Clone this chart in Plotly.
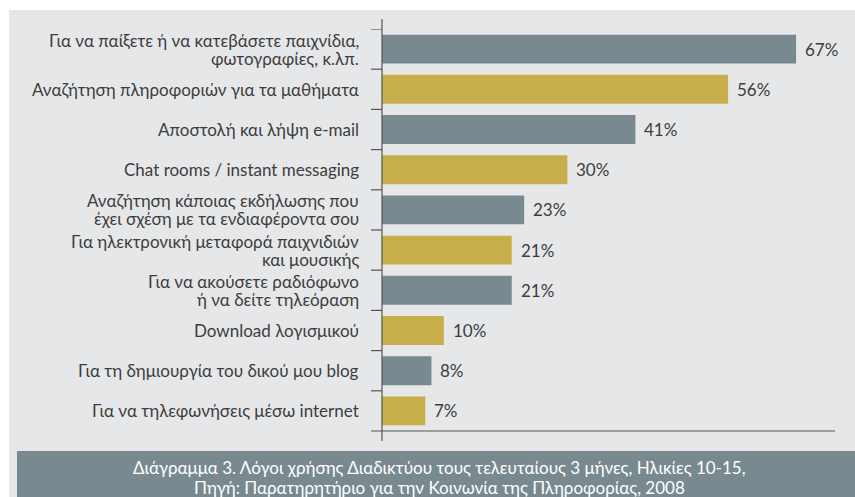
import plotly.graph_objects as go

categories = [
    "Για να παίξετε ή να κατεβάσετε παιχνίδια,<br>φωτογραφίες, κ.λπ.",
    "Αναζήτηση πληροφοριών για τα μαθήματα",
    "Αποστολή και λήψη e-mail",
    "Chat rooms / instant messaging",
    "Αναζήτηση κάποιας εκδήλωσης που<br>έχει σχέση με τα ενδιαφέροντα σου",
    "Για ηλεκτρονική μεταφορά παιχνιδιών<br>και μουσικής",
    "Για να ακούσετε ραδιόφωνο<br>ή να δείτε τηλεόραση",
    "Download λογισμικού",
    "Για τη δημιουργία του δικού μου blog",
    "Για να τηλεφωνήσεις μέσω internet",
]
values = [67, 56, 41, 30, 23, 21, 21, 10, 8, 7]
value_labels = ["67%", "56%", "41%", "30%", "23%", "21%", "21%", "10%", "8%", "7%"]
caption_lines = [
    "Διάγραμμα 3. Λόγοι χρήσης Διαδικτύου τους τελευταίους 3 μήνες, Ηλικίες 10-15,",
    "Πηγή: Παρατηρητήριο για την Κοινωνία της Πληροφορίας, 2008",
]

SLATE = "#788a8f"
GOLD = "#c8ae4a"
TEXT = "#3d3d3d"
FONT = "Lato"
FS = 17
LINE_GAP = 18

W, H = 855, 497
L, R, T, B = 382, 20, 29, 66
plot_w = W - L - R
plot_h = H - T - B

colors = [SLATE if i % 2 == 0 else GOLD for i in range(len(values))]
ypos = list(range(len(values)))

fig = go.Figure()
fig.add_trace(go.Bar(
    x=values, y=ypos, orientation="h",
    marker=dict(color=colors, line=dict(width=0)),
    width=0.72,
    hoverinfo="skip",
))

shapes = []
shapes.append(dict(type="rect", xref="paper", yref="paper",
                   x0=-(L - 9) / plot_w, x1=(W - L) / plot_w,
                   y0=-B / plot_h, y1=(H - B - 10) / plot_h,
                   fillcolor="#e6e7e9", line=dict(width=0), layer="below"))
shapes.append(dict(type="rect", xref="paper", yref="paper",
                   x0=-(L - 17) / plot_w, x1=(W - L) / plot_w,
                   y0=-B / plot_h, y1=-(451 - (H - B)) / plot_h,
                   fillcolor=SLATE, line=dict(width=0), layer="below"))
shapes.append(dict(type="line", xref="paper", yref="paper",
                   x0=0, x1=0, y0=-10 / plot_h, y1=1 + 10 / plot_h,
                   line=dict(color="#555555", width=1.2)))
shapes.append(dict(type="line", xref="paper", yref="paper",
                   x0=-11 / plot_w, x1=1, y0=0, y1=0,
                   line=dict(color="#555555", width=1.2)))
for k in range(len(values)):
    shapes.append(dict(type="line", xref="paper", yref="y",
                       x0=-11 / plot_w, x1=0, y0=k - 0.5, y1=k - 0.5,
                       line=dict(color="#555555", width=1.2)))

annotations = []
for i, c in enumerate(categories):
    lines = c.split("<br>")
    n = len(lines)
    for j, line in enumerate(lines):
        shift = ((n - 1) / 2 - j) * LINE_GAP
        annotations.append(dict(x=-21 / plot_w, xref="paper", y=i, yref="y",
                                yshift=shift, text=line, showarrow=False,
                                xanchor="right", yanchor="middle",
                                font=dict(family=FONT, size=FS, color=TEXT)))
for i, (v, t) in enumerate(zip(values, value_labels)):
    annotations.append(dict(x=v, xref="x", y=i, yref="y", text=t, showarrow=False,
                            xanchor="left", xshift=7,
                            font=dict(family=FONT, size=FS, color=TEXT)))
for j, line in enumerate(caption_lines):
    annotations.append(dict(x=(439 - L) / plot_w, xref="paper",
                            y=-((467 + 20 * j) - (H - B)) / plot_h, yref="paper",
                            text=line, showarrow=False, xanchor="center", yanchor="middle",
                            font=dict(family=FONT, size=FS, color="white")))

fig.update_layout(
    width=W, height=H,
    margin=dict(l=L, r=R, t=T, b=B, pad=0),
    paper_bgcolor="white", plot_bgcolor="rgba(0,0,0,0)",
    showlegend=False,
    xaxis=dict(range=[0, 73.3], visible=False, fixedrange=True),
    yaxis=dict(range=[len(values) - 0.5, -0.5], visible=False, fixedrange=True),
    shapes=shapes, annotations=annotations,
)

fig.write_html("out.html", config={"displayModeBar": False},
               post_script="document.body.style.margin='0';")
